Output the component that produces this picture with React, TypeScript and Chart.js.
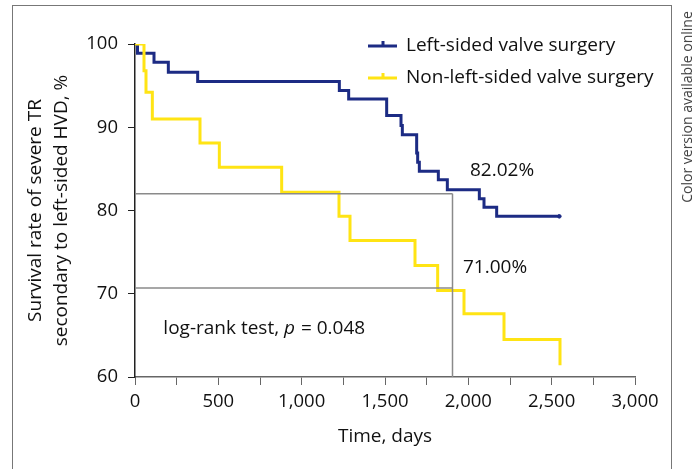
import React, { useEffect, useRef } from "react";
import { Chart, registerables } from "chart.js";

Chart.register(...registerables);

// ---- data ----
const leftTimes = [0, 15, 114, 200, 376, 1226, 1282, 1510, 1596, 1604, 1690, 1696, 1706, 1820, 1874, 2066, 2094, 2170, 2546];
const leftValues = [100, 98.9, 97.8, 96.6, 95.5, 94.4, 93.4, 91.4, 90.2, 89.1, 86.9, 85.8, 84.7, 83.7, 82.5, 81.4, 80.4, 79.3, 79.3];

const nonLeftTimes = [0, 54, 66, 104, 390, 506, 880, 1224, 1290, 1680, 1816, 1974, 2214, 2550, 2550];
const nonLeftValues = [100, 96.8, 94.2, 91.0, 88.1, 85.2, 82.2, 79.3, 76.4, 73.4, 70.4, 67.6, 64.5, 64.5, 61.4];

const seriesNames = ["Left-sided valve surgery", "Non-left-sided valve surgery"];
const refTime = 1905;
const refLeft = 82.02;
const refNonLeft = 70.7;
const refLeftLabel = "82.02%";
const refNonLeftLabel = "71.00%";
const pValueText = "0.048";
const xTicks = [0, 3000, 250];
const yTicks = [60, 100, 10];

const BLUE = "#1c2b84";
const YELLOW = "#ffe414";
const GRAY = "#8a8a8a";
const FONT = "'Open Sans', 'Noto Sans', sans-serif";

const toPoints = (xs: number[], ys: number[]) => xs.map((x, i) => ({ x, y: ys[i] }));

const overlayPlugin = {
  id: "overlay",
  afterDatasetsDraw(chart: any) {
    const { ctx, chartArea, scales } = chart;
    const xs = scales.x;
    const ys = scales.y;
    ctx.save();
    // legend
    const lx = chartArea.left + 233;
    const items = [
      { color: BLUE, label: seriesNames[0], y: chartArea.top + 2 },
      { color: YELLOW, label: seriesNames[1], y: chartArea.top + 34 },
    ];
    ctx.font = `19px ${FONT}`;
    ctx.textBaseline = "middle";
    ctx.textAlign = "left";
    items.forEach((it) => {
      ctx.strokeStyle = it.color;
      ctx.lineWidth = 3;
      ctx.beginPath();
      ctx.moveTo(lx, it.y);
      ctx.lineTo(lx + 29, it.y);
      ctx.moveTo(lx + 15, it.y);
      ctx.lineTo(lx + 15, it.y - 5);
      ctx.stroke();
      ctx.fillStyle = "#111";
      ctx.fillText(it.label, lx + 38, it.y);
    });
    // annotations
    ctx.font = `19px ${FONT}`;
    ctx.fillStyle = "#111";
    ctx.fillText(refLeftLabel, xs.getPixelForValue(2010), ys.getPixelForValue(84.8));
    ctx.fillText(refNonLeftLabel, xs.getPixelForValue(1968), ys.getPixelForValue(73.1));
    let px = xs.getPixelForValue(170);
    const py = ys.getPixelForValue(65.8);
    const parts = [
      { t: "log-rank test, ", i: false },
      { t: "p", i: true },
      { t: " = " + pValueText, i: false },
    ];
    parts.forEach((p) => {
      ctx.font = `${p.i ? "italic " : ""}19px ${FONT}`;
      ctx.fillText(p.t, px, py);
      px += ctx.measureText(p.t).width + (p.i ? 1 : 0);
    });
    ctx.restore();
  },
};

export default function App() {
  const ref = useRef<HTMLCanvasElement>(null);
  useEffect(() => {
    if (!ref.current) return;
    const chart = new Chart(ref.current, {
      type: "line",
      data: {
        datasets: [
          {
            label: "refH1",
            data: [{ x: 0, y: refLeft }, { x: refTime, y: refLeft }],
            borderColor: GRAY,
            borderWidth: 1.5,
            pointRadius: 0,
          },
          {
            label: "refH2",
            data: [{ x: 0, y: refNonLeft }, { x: refTime, y: refNonLeft }],
            borderColor: GRAY,
            borderWidth: 1.5,
            pointRadius: 0,
          },
          {
            label: "refV",
            data: [{ x: refTime, y: 60 }, { x: refTime, y: refLeft }],
            borderColor: GRAY,
            borderWidth: 1.5,
            pointRadius: 0,
          },
          {
            label: seriesNames[1],
            data: toPoints(nonLeftTimes, nonLeftValues),
            borderColor: YELLOW,
            borderWidth: 3,
            stepped: "before",
            pointRadius: 0,
          },
          {
            label: seriesNames[0],
            data: toPoints(leftTimes, leftValues),
            borderColor: BLUE,
            backgroundColor: BLUE,
            borderWidth: 3,
            stepped: "before",
            pointRadius: leftTimes.map((_, i) => (i === leftTimes.length - 1 ? 1.8 : 0)),
            pointBorderWidth: 1,
            pointStyle: "circle",
          },
        ],
      },
      options: {
        responsive: false,
        animation: false,
        layout: { padding: { left: 0, top: 44, right: 63, bottom: 0 } },
        plugins: { legend: { display: false }, tooltip: { enabled: false } },
        scales: {
          x: {
            type: "linear",
            min: xTicks[0],
            max: xTicks[1],
            afterFit: (s: any) => {
              s.height = 92;
            },
            ticks: {
              stepSize: xTicks[2],
              autoSkip: false,
              maxRotation: 0,
              padding: 6,
              color: "#111",
              font: { family: FONT, size: 18.5 },
              callback: (v: any) => (Number(v) % 500 === 0 ? Number(v).toLocaleString("en-US") : ""),
            },
            grid: { drawOnChartArea: false, drawTicks: true, tickLength: 8, color: "#666" },
            border: { display: true, color: "#666", width: 1.5 },
            title: {
              display: true,
              text: "Time, days",
              color: "#111",
              font: { family: FONT, size: 19, lineHeight: 1.2 },
              padding: { top: 0, bottom: 21 },
            },
          },
          y: {
            type: "linear",
            min: yTicks[0],
            max: yTicks[1],
            afterFit: (s: any) => {
              s.width = 135;
            },
            ticks: {
              stepSize: yTicks[2],
              padding: 10,
              color: "#111",
              font: { family: FONT, size: 18.5 },
            },
            grid: { drawOnChartArea: false, drawTicks: true, tickLength: 7, color: "#222" },
            border: { display: true, color: "#222", width: 1.5 },
            title: {
              display: true,
              text: ["Survival rate of severe TR", "secondary to left-sided HVD, %"],
              color: "#111",
              font: { family: FONT, size: 19, lineHeight: 1.35 },
              padding: { top: 23, bottom: 0 },
            },
          },
        },
      },
      plugins: [overlayPlugin],
    } as any);
    return () => chart.destroy();
  }, []);

  return (
    <div style={{ position: "fixed", left: 0, top: 0, width: 698, height: 469, overflow: "hidden", background: "#fff" }}>
      <div
        style={{
          position: "absolute",
          left: 12,
          top: 5,
          width: 660,
          height: 480,
          border: "1px solid #777",
          boxSizing: "border-box",
        }}
      />
      <canvas ref={ref} width={698} height={469} style={{ position: "absolute", left: 0, top: 0 }} />
      <div
        style={{
          position: "absolute",
          left: 687,
          top: 107,
          width: 220,
          height: 18,
          marginLeft: -110,
          marginTop: -9,
          transform: "rotate(-90deg)",
          font: `14px ${FONT}`,
          color: "#444",
          textAlign: "center",
          lineHeight: "18px",
          whiteSpace: "nowrap",
        }}
      >
        Color version available online
      </div>
    </div>
  );
}
